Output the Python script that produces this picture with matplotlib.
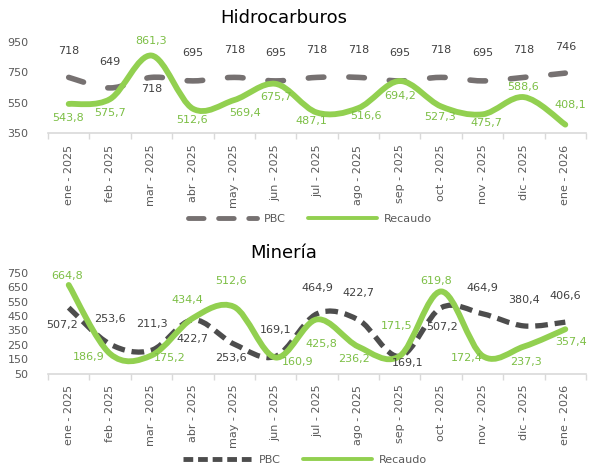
import numpy as np
import matplotlib
matplotlib.use("Agg")
import matplotlib.pyplot as plt
from matplotlib.path import Path
from matplotlib.patches import PathPatch
from matplotlib.lines import Line2D

months = ['ene - 2025', 'feb - 2025', 'mar - 2025', 'abr - 2025', 'may - 2025',
          'jun - 2025', 'jul - 2025', 'ago - 2025', 'sep - 2025', 'oct - 2025',
          'nov - 2025', 'dic - 2025', 'ene - 2026']

hid_pbc = [718, 649, 718, 695, 718, 695, 718, 718, 695, 718, 695, 718, 746]
hid_rec = [543.8, 575.7, 861.3, 512.6, 569.4, 675.7, 487.1, 516.6, 694.2,
           527.3, 475.7, 588.6, 408.1]
min_pbc = [507.2, 253.6, 211.3, 422.7, 253.6, 169.1, 464.9, 422.7, 169.1,
           507.2, 464.9, 380.4, 406.6]
min_rec = [664.8, 186.9, 175.2, 434.4, 512.6, 160.9, 425.8, 236.2, 171.5,
           619.8, 172.4, 237.3, 357.4]

# label offsets in pixels (dx right, dy down), copied from the excel layout
hid_pbc_off = [(0, -26), (0, -26), (0, 12), (0, -28), (0, -27), (0, -28), (0, -27),
               (0, -27), (0, -28), (0, -27), (0, -28), (0, -27), (0, -26)]
hid_rec_off = [(-1, 14), (0, 14), (0, -15), (-1, 11), (11, 13), (1, 13), (-6, 8),
               (8, 8), (0, 15), (-1, 11), (4, 9), (-1, -10), (5, -20)]
min_pbc_off = [(-7, 17), (0, -25), (0, -26), (0, 19), (-3, 14), (0, -26), (0, -26),
               (0, -27), (8, 7), (1, 19), (0, -26), (0, -26), (0, -26)]
min_rec_off = [(-2, -9), (-21, 3), (18, 3), (-5, -18), (-3, -26), (22, 4), (4, 25),
               (-4, 12), (-3, -30), (-5, -10), (-16, 2), (2, 15), (6, 13)]

GREEN = '#92D050'
GREEN_TXT = '#7CBF45'
TXT = '#404040'
TICK = '#595959'
AXIS = '#D9D9D9'

plt.rcParams['font.family'] = ['DejaVu Sans']


def smooth_path(ys):
    # excel-like smoothed line as cubic bezier segments
    xs = np.arange(len(ys), dtype=float)
    pts = np.column_stack([xs, np.asarray(ys, dtype=float)])
    verts = [pts[0]]
    codes = [Path.MOVETO]
    n = len(pts)
    for i in range(n - 1):
        p0 = pts[max(i - 1, 0)]
        p1 = pts[i]
        p2 = pts[i + 1]
        p3 = pts[min(i + 2, n - 1)]
        c1 = p1 + (p2 - p0) / 6.0
        c2 = p2 - (p3 - p1) / 6.0
        verts += [c1, c2, p2]
        codes += [Path.CURVE4] * 3
    return Path(verts, codes)


def fmt(v):
    if float(v).is_integer():
        return '%d' % v
    return ('%.1f' % v).replace('.', ',')


def put_labels(ax, vals, offs, color):
    for i, (v, (dx, dy)) in enumerate(zip(vals, offs)):
        ax.annotate(fmt(v), (i, v), xytext=(dx * 0.72, -dy * 0.72),
                    textcoords='offset points', ha='center', va='center',
                    fontsize=8, color=color, annotation_clip=False)


def style_axis(ax, ticks):
    ax.set_xlim(-0.5, len(months) - 0.5)
    ax.set_yticks(ticks)
    ax.set_ylim(ticks[0], ticks[-1])
    ax.tick_params(axis='y', length=0, labelsize=8, labelcolor=TICK, pad=14)
    ax.set_xticks(range(len(months)))
    ax.set_xticklabels(months, rotation=90, fontsize=8, color=TICK)
    ax.set_xticks(np.arange(-0.5, len(months), 1), minor=True)
    ax.tick_params(axis='x', which='major', length=0, pad=8)
    ax.tick_params(axis='x', which='minor', length=4, color=AXIS, width=1)
    for s in ['top', 'right', 'left']:
        ax.spines[s].set_visible(False)
    ax.spines['bottom'].set_color(AXIS)
    ax.spines['bottom'].set_linewidth(1.2)
    ax.spines['bottom'].set_zorder(0)


fig = plt.figure(figsize=(5.9, 4.67), dpi=100)

# Hidrocarburos
ax1 = fig.add_axes([48 / 590, 1 - 133.5 / 467, 538 / 590, 91.5 / 467])
style_axis(ax1, [350, 550, 750, 950])
ax1.add_patch(PathPatch(smooth_path(hid_pbc), fill=False, edgecolor='#767171',
                        lw=4, linestyle=(0, (2.8, 4.5)), capstyle='round',
                        clip_on=False))
ax1.add_patch(PathPatch(smooth_path(hid_rec), fill=False, edgecolor=GREEN,
                        lw=4.2, capstyle='round', joinstyle='round', clip_on=False))
put_labels(ax1, hid_pbc, hid_pbc_off, TXT)
put_labels(ax1, hid_rec, hid_rec_off, GREEN_TXT)
fig.text(284 / 590, 1 - 18 / 467, 'Hidrocarburos', fontsize=13, ha='center',
         va='center', color='black')

# Mineria
ax2 = fig.add_axes([48 / 590, 1 - 373.5 / 467, 538 / 590, 100.8 / 467])
style_axis(ax2, [50, 150, 250, 350, 450, 550, 650, 750])
ax2.add_patch(PathPatch(smooth_path(min_pbc), fill=False, edgecolor='#4D4D4D',
                        lw=3.8, linestyle=(0, (2.4, 1.3)), capstyle='butt',
                        clip_on=False))
ax2.add_patch(PathPatch(smooth_path(min_rec), fill=False, edgecolor=GREEN,
                        lw=4.2, capstyle='round', joinstyle='round', clip_on=False))
put_labels(ax2, min_pbc, min_pbc_off, TXT)
put_labels(ax2, min_rec, min_rec_off, GREEN_TXT)
fig.text(284 / 590, 1 - 253 / 467, 'Minería', fontsize=13, ha='center',
         va='center', color='black')

# legends
h_top = [Line2D([], [], color='#767171', lw=3.5, linestyle=(0, (3.2, 3.0)),
                dash_capstyle='round'),
         Line2D([], [], color=GREEN, lw=2.8, solid_capstyle='round')]
fig.legend(h_top, ['PBC', 'Recaudo'], loc='center', ncol=2,
           bbox_to_anchor=(310 / 590, 1 - 219 / 467), frameon=False,
           fontsize=8, labelcolor=TICK, handlelength=6.2, handletextpad=0.6,
           columnspacing=2.0)
h_bot = [Line2D([], [], color='#4D4D4D', lw=3.5, linestyle=(0, (2.0, 1.0)),
                dash_capstyle='butt'),
         Line2D([], [], color=GREEN, lw=2.8, solid_capstyle='round')]
fig.legend(h_bot, ['PBC', 'Recaudo'], loc='center', ncol=2,
           bbox_to_anchor=(305 / 590, 1 - 460 / 467), frameon=False,
           fontsize=8, labelcolor=TICK, handlelength=6.2, handletextpad=0.6,
           columnspacing=2.0)

fig.savefig('out.png', dpi=100)
